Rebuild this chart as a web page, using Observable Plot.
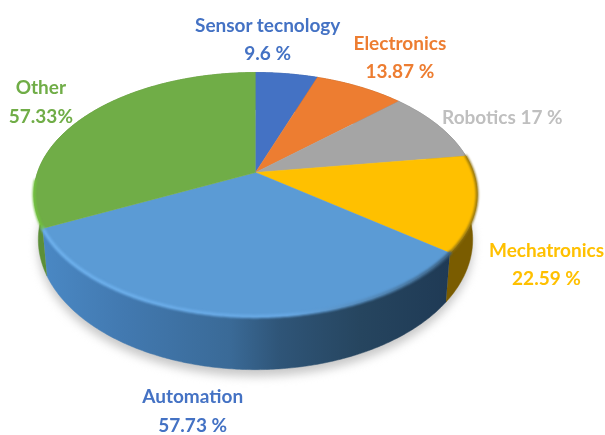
<!DOCTYPE html>
<html>
<head>
<meta charset="utf-8">
<script src="https://cdn.jsdelivr.net/npm/d3@7"></script>
<script src="https://cdn.jsdelivr.net/npm/@observablehq/plot@0.6"></script>
<style>
html,body{margin:0;padding:0;background:#fff}
svg{display:block}
</style>
</head>
<body>
<div id="chart"></div>
<script>
// Chart values, clockwise from 12 o'clock
const categories = ["Sensor tecnology", "Electronics", "Robotics", "Mechatronics", "Automation", "Other"];
const values = [9.6, 13.87, 17, 22.59, 57.73, 57.33];
const valueLabels = ["9.6 %", "13.87 %", "17 %", "22.59 %", "57.73 %", "57.33%"];

// Styling
const topColors = ["#4472c4", "#ed7d31", "#a5a5a5", "#ffc000", "#5b9bd5", "#70ad47"];
const sideColors = ["#2f5597", "#ae5a21", "#7b7b7b", "#7a5c00", "url(#blueSide)", "#5c8f38"];
const labelColors = ["#4472c4", "#ed7d31", "#bfbfbf", "#ffc000", "#4472c4", "#70ad47"];
const labelSeparators = ["\n", "\n", " ", "\n", "\n", "\n"];
const labelDx = [-19, 40, 64, 70, -36, -46];
const labelDy = [-37, -32, -11, 58, 93, -16];

// Geometry of the tilted disc, in units of the pie radius
const W = 605, H = 435, cx = 255, cy = 172, Rx = 218, Ry = 118;
const k = 0.18, depth = 0.37, taper = 0.98;
const proj = (a, low = 0) => {
  const s = Math.sin(a), c = Math.cos(a), w = 1 + k * c;
  return low ? {x: taper * s / w, y: c / w - depth / w} : {x: s / w, y: c / w};
};
const arc = (a0, a1, low = 0) => {
  const n = Math.max(2, Math.ceil((a1 - a0) / 0.01));
  return d3.range(n + 1).map(i => proj(a0 + (a1 - a0) * i / n, low));
};
const arcs = d3.pie().sort(null).value(d => d)(values);
const deg = Math.PI / 180;
const blur = px => (index, scales, vals, dims, ctx, next) => {
  const g = next(index, scales, vals, dims, ctx);
  if (g) g.style.filter = `blur(${px}px)`;
  return g;
};
const poly = (pts, fill, px) =>
  Plot.line(pts, {x: "x", y: "y", fill, stroke: fill, strokeWidth: 0.5, curve: "linear", render: blur(px)});
const rim = (a0, a1, stroke, strokeWidth) =>
  Plot.line(arc(a0, a1), {x: "x", y: "y", stroke, strokeWidth, curve: "linear", render: blur(1.2)});

const marks = [
  // soft ground shadow
  poly(arc(0, 2 * Math.PI, 1).map(p => ({x: p.x, y: p.y - 0.055})), "#c8c8c8", 5),
  // outer walls
  ...arcs.map((d, i) => poly([...arc(d.startAngle, d.endAngle), ...arc(d.startAngle, d.endAngle, 1).reverse()], sideColors[i], 0.4)),
  // top faces
  ...arcs.map((d, i) => poly([{x: 0, y: 0}, ...arc(d.startAngle, d.endAngle)], topColors[i], 0.4)),
  // bevel along the front rim
  rim(arcs[3].startAngle, arcs[3].endAngle, "#8f7210", 2.5),
  rim(arcs[4].startAngle, arcs[4].endAngle, "url(#blueRim)", 3.5),
  rim(arcs[5].startAngle, arcs[5].startAngle + 22 * deg, "#72c43e", 2.5),
  // labels
  ...arcs.map((d, i) => {
    const p = proj((d.startAngle + d.endAngle) / 2);
    return Plot.text([p], {
      x: "x", y: "y",
      text: () => categories[i] + labelSeparators[i] + valueLabels[i],
      dx: labelDx[i], dy: labelDy[i],
      fill: labelColors[i],
      lineHeight: 1.5,
      textAnchor: "middle",
      render: blur(0.4)
    });
  })
];

const chart = Plot.plot({
  width: W, height: H,
  margin: 0,
  style: {background: "#fff", fontFamily: "Lato, sans-serif", fontSize: "19px", fontWeight: 700},
  x: {domain: [-cx / Rx, (W - cx) / Rx], range: [0, W], axis: null},
  y: {domain: [cy / Ry, -(H - cy) / Ry], range: [0, H], axis: null},
  marks
});

// Gradients used by the wall and the bevel of the largest slice
const svg = d3.select(chart);
const defs = svg.insert("defs", ":first-child");
const grad = (id, stops) => {
  const g = defs.append("linearGradient").attr("id", id);
  stops.forEach(([o, c]) => g.append("stop").attr("offset", o).attr("stop-color", c));
};
grad("blueSide", [[0, "#4a88c4"], [0.2, "#4279b0"], [0.46, "#3a6a97"], [0.58, "#2f5578"], [0.78, "#26455f"], [1, "#1f3a55"]]);
grad("blueRim", [[0, "#6db0ec"], [0.6, "#67a8e4"], [0.85, "#4f82b0"], [1, "#3a5f80"]]);

document.getElementById("chart").appendChild(chart);
</script>
</body>
</html>
